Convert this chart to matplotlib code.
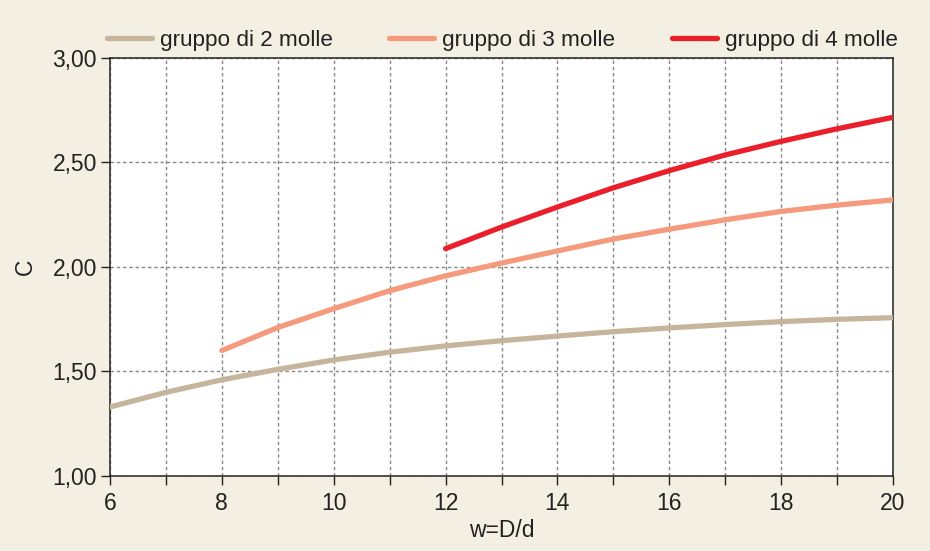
import matplotlib
matplotlib.use('Agg')
import matplotlib.pyplot as plt
from matplotlib.ticker import MultipleLocator, FuncFormatter

w2 = [6, 7, 8, 9, 10, 11, 12, 13, 14, 15, 16, 17, 18, 19, 20]
c2 = [1.33, 1.40, 1.46, 1.51, 1.555, 1.592, 1.622, 1.647, 1.669, 1.69, 1.708, 1.724, 1.738, 1.749, 1.757]

w3 = [8, 9, 10, 11, 12, 13, 14, 15, 16, 17, 18, 19, 20]
c3 = [1.60, 1.71, 1.80, 1.886, 1.957, 2.018, 2.076, 2.133, 2.18, 2.225, 2.265, 2.295, 2.32]

w4 = [12, 13, 14, 15, 16, 17, 18, 19, 20]
c4 = [2.087, 2.19, 2.286, 2.378, 2.46, 2.535, 2.60, 2.66, 2.715]

labels = ['gruppo di 2 molle', 'gruppo di 3 molle', 'gruppo di 4 molle']
colors = ['#c5b59d', '#f59a7c', '#ea1f2b']

plt.rcParams['font.family'] = ['Liberation Sans', 'DejaVu Sans']

bg = '#f3efe2'
fs = 16.5
fig = plt.figure(figsize=(9.3, 5.51), dpi=100, facecolor=bg)
ax = fig.add_axes([0.1183, 0.1361, 0.8419, 0.7592])
ax.set_facecolor('white')

for xs, ys, lab, col in zip([w2, w3, w4], [c2, c3, c4], labels, colors):
	ax.plot(xs, ys, color=col, lw=3.8, solid_capstyle='round', label=lab, zorder=3)

ax.set_xlim(6, 20)
ax.set_ylim(1.0, 3.0)
ax.xaxis.set_major_locator(MultipleLocator(2))
ax.xaxis.set_minor_locator(MultipleLocator(1))
ax.yaxis.set_major_locator(MultipleLocator(0.5))
ax.yaxis.set_major_formatter(FuncFormatter(lambda v, p: ('%.2f' % v).replace('.', ',')))

ax.tick_params(which='both', direction='out', length=6.5, width=1, color='#222222',
			labelsize=fs, labelcolor='#222222')
ax.tick_params(axis='x', pad=5)
ax.tick_params(axis='y', pad=3)
ax.grid(which='both', axis='x', ls=(0, (2.5, 2)), color='#888888', lw=1)
ax.grid(which='major', axis='y', ls=(0, (2.5, 2)), color='#888888', lw=1)
ax.set_axisbelow(True)
for s in ax.spines.values():
	s.set_color('#222222')
	s.set_linewidth(1.1)

ax.set_xlabel('w=D/d', fontsize=fs, color='#222222', labelpad=3)
ax.set_ylabel('C', fontsize=fs, color='#222222', labelpad=11)

fig.legend(loc='center', bbox_to_anchor=(0.540, 0.927), ncol=3, frameon=False,
		fontsize=16.2, handlelength=2.0, handletextpad=0.36, columnspacing=2.5,
		labelcolor='#222222')

fig.savefig('out.png', dpi=100, facecolor=bg)
